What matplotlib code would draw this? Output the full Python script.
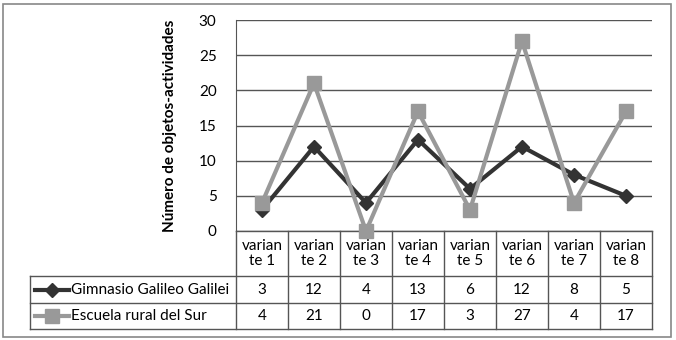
import matplotlib
matplotlib.use("Agg")
import matplotlib.pyplot as plt
from matplotlib.transforms import blended_transform_factory
from matplotlib.lines import Line2D
from matplotlib.patches import Rectangle

categories = ["varian\nte 1", "varian\nte 2", "varian\nte 3", "varian\nte 4",
              "varian\nte 5", "varian\nte 6", "varian\nte 7", "varian\nte 8"]
series_names = ["Gimnasio Galileo Galilei", "Escuela rural del Sur"]
galileo = [3, 12, 4, 13, 6, 12, 8, 5]
rural = [4, 21, 0, 17, 3, 27, 4, 17]
yticks = [0, 5, 10, 15, 20, 25, 30]

plt.rcParams['font.family'] = ['Lato', 'DejaVu Sans']

dark = "#333333"
light = "#999999"
gridc = "#555555"
fs = 11

fig = plt.figure(figsize=(6.76, 3.40), dpi=100)
W, H = 676, 340
ax = fig.add_axes([236 / W, (H - 231) / H, 416 / W, 211 / H])

x = list(range(len(categories)))
ax.plot(x, galileo, color=dark, lw=3, marker="D", ms=7, zorder=3, clip_on=False)
ax.plot(x, rural, color=light, lw=3, marker="s", ms=10, zorder=4, clip_on=False)

ax.set_xlim(-0.5, len(categories) - 0.5)
ax.set_ylim(0, 30)
ax.set_yticks(yticks)
ax.tick_params(axis="y", length=0, labelsize=fs, pad=14)
ax.set_xticks([])
ax.grid(axis="y", color=gridc, lw=1)
ax.set_axisbelow(True)
for s in ["top", "right", "bottom"]:
    ax.spines[s].set_visible(False)
ax.spines["left"].set_color(gridc)
ax.set_ylabel("Número de objetos-actividades", fontsize=11, fontweight="bold", labelpad=16)

# data table below the axes
tr = blended_transform_factory(ax.transData, ax.transAxes)
px = 1 / 211
y_head = -45 * px
y_r1 = -72 * px
y_r2 = -98 * px
x_left = -0.5 - 206 / 52
x_right = len(categories) - 0.5
lkw = dict(color=gridc, lw=1, transform=tr, clip_on=False)

# horizontal lines
ax.add_line(Line2D([-0.5, x_right], [0, 0], **lkw))
for yy in [y_head, y_r1, y_r2]:
    ax.add_line(Line2D([x_left, x_right], [yy, yy], **lkw))
# vertical lines
for i in range(len(categories) + 1):
    ax.add_line(Line2D([i - 0.5, i - 0.5], [0, y_r2], **lkw))
ax.add_line(Line2D([x_left, x_left], [y_head, y_r2], **lkw))

for i, c in enumerate(categories):
    ax.text(i, y_head / 2, c, transform=tr, ha="center", va="center",
            fontsize=fs, linespacing=1.15)
for yy, vals in [((y_head + y_r1) / 2, galileo), ((y_r1 + y_r2) / 2, rural)]:
    for i, v in enumerate(vals):
        ax.text(i, yy, str(v), transform=tr, ha="center", va="center", fontsize=fs)

# legend keys in the table
keys = [(series_names[0], dark, "D", 7), (series_names[1], light, "s", 10)]
for (name, col, mk, ms), yy in zip(keys, [(y_head + y_r1) / 2, (y_r1 + y_r2) / 2]):
    ax.add_line(Line2D([x_left + 0.1, x_left + 0.75], [yy, yy], color=col, lw=3,
                       transform=tr, clip_on=False))
    ax.add_line(Line2D([x_left + 0.42], [yy], color=col, marker=mk, ms=ms,
                       transform=tr, clip_on=False))
    ax.text(x_left + 0.78, yy, name, transform=tr, ha="left", va="center", fontsize=fs)

# outer border
fig.patches.append(Rectangle((3 / W, 3 / H), 668 / W, 333 / H, transform=fig.transFigure,
                             fill=False, edgecolor="#888888", lw=1.2))

fig.savefig("out.png", dpi=100)
